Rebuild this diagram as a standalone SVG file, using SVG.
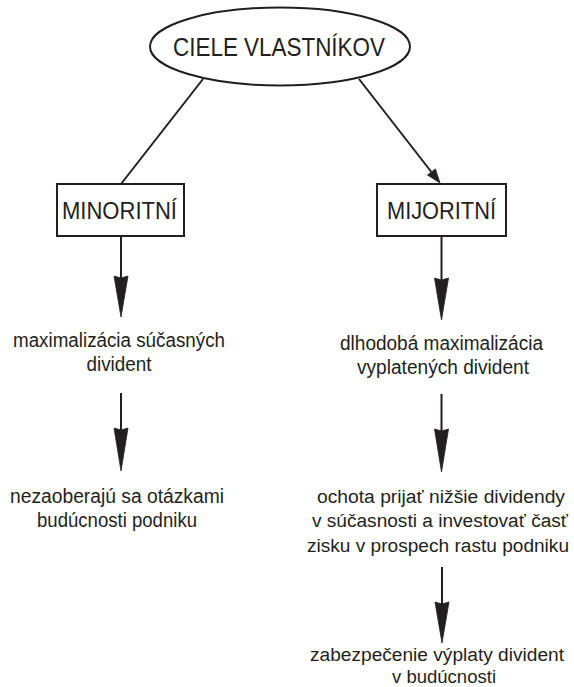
<svg xmlns="http://www.w3.org/2000/svg" width="574" height="687" viewBox="0 0 574 687">
  <style>
    .shape { fill: #ffffff; stroke: #231f20; stroke-width: 2; }
    .line { stroke: #231f20; stroke-width: 2; fill: none; }
    .head { fill: #231f20; stroke: #231f20; stroke-width: 0.8; stroke-linejoin: miter; }
    text { font-family: "Liberation Sans", Arial, sans-serif; fill: #231f20; text-anchor: middle; }
    .title { font-size: 26px; }
    .box { font-size: 24px; }
    .body { font-size: 19.5px; }
    .tight { font-size: 18.8px; }
  </style>
  <rect width="574" height="687" fill="#ffffff"/>

  <g id="connectors">
    <line class="line" x1="203" y1="79" x2="121" y2="184"/>
    <line class="line" x1="359" y1="79" x2="431.4" y2="172"/>
    <polygon class="head" points="440,183 427.4,175 435.4,168.9"/>

    <line class="line" x1="121" y1="236" x2="121" y2="278"/>
    <polygon class="head" points="114,276 121,278 128,276 121,317"/>
    <line class="line" x1="441.5" y1="236" x2="441.5" y2="280"/>
    <polygon class="head" points="434.5,278 441.5,280 448.5,278 441.5,320"/>

    <line class="line" x1="121" y1="393" x2="121" y2="430"/>
    <polygon class="head" points="114,428 121,430 128,428 121,471"/>
    <line class="line" x1="441.5" y1="394" x2="441.5" y2="431"/>
    <polygon class="head" points="434.5,429 441.5,431 448.5,429 441.5,472"/>

    <line class="line" x1="442" y1="567" x2="442" y2="604"/>
    <polygon class="head" points="435,602 442,604 449,602 442,643"/>
  </g>

  <g id="node-ciele">
    <ellipse class="shape" cx="280" cy="46.5" rx="130" ry="39"/>
    <text class="title" x="279" y="56" textLength="212" lengthAdjust="spacingAndGlyphs">CIELE VLASTNÍKOV</text>
  </g>

  <g id="node-minoritni">
    <rect class="shape" x="57" y="184" width="127" height="52"/>
    <text class="box" x="119.5" y="219" textLength="115" lengthAdjust="spacingAndGlyphs">MINORITNÍ</text>
  </g>

  <g id="node-mijoritni">
    <rect class="shape" x="377" y="184" width="129" height="52"/>
    <text class="box" x="441.5" y="219" textLength="109" lengthAdjust="spacingAndGlyphs">MIJORITNÍ</text>
  </g>

  <g id="node-left-1">
    <text class="body" x="119" y="347" textLength="212" lengthAdjust="spacingAndGlyphs">maximalizácia súčasných</text>
    <text class="body" x="119" y="371" textLength="65" lengthAdjust="spacingAndGlyphs">divident</text>
  </g>

  <g id="node-right-1">
    <text class="body" x="441.5" y="350" textLength="203" lengthAdjust="spacingAndGlyphs">dlhodobá maximalizácia</text>
    <text class="body" x="443" y="374" textLength="172" lengthAdjust="spacingAndGlyphs">vyplatených divident</text>
  </g>

  <g id="node-left-2">
    <text class="body" x="117" y="503" textLength="214" lengthAdjust="spacingAndGlyphs">nezaoberajú sa otázkami</text>
    <text class="body" x="117" y="527" textLength="160" lengthAdjust="spacingAndGlyphs">budúcnosti podniku</text>
  </g>

  <g id="node-right-2">
    <text class="tight" x="441" y="503" textLength="248" lengthAdjust="spacingAndGlyphs">ochota prijať nižšie dividendy</text>
    <text class="tight" x="440" y="527" textLength="256" lengthAdjust="spacingAndGlyphs">v súčasnosti a investovať časť</text>
    <text class="tight" x="438" y="552" textLength="262" lengthAdjust="spacingAndGlyphs">zisku v prospech rastu podniku</text>
  </g>

  <g id="node-right-3">
    <text class="tight" x="437" y="661" textLength="254" lengthAdjust="spacingAndGlyphs">zabezpečenie výplaty divident</text>
    <text class="tight" x="444" y="683" textLength="104" lengthAdjust="spacingAndGlyphs">v budúcnosti</text>
  </g>
</svg>
